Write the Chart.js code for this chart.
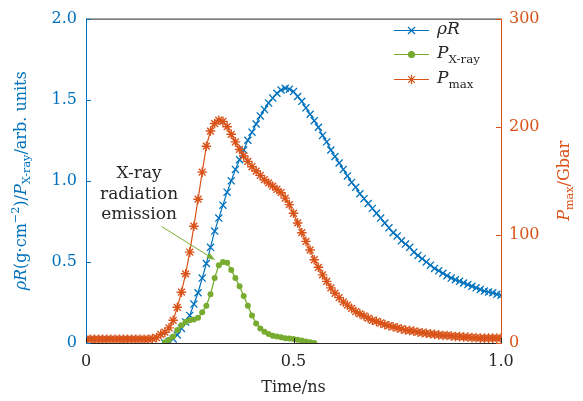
<!DOCTYPE html>
<html>
<head>
<meta charset="utf-8">
<script src="https://cdn.jsdelivr.net/npm/chart.js@4.4.1/dist/chart.umd.min.js"></script>
<style>
  html, body { margin: 0; padding: 0; background: #fff; }
  #wrap { width: 583px; height: 401px; position: relative; }
</style>
</head>
<body>
<div id="wrap"><canvas id="chart" width="583" height="401"></canvas></div>
<script>
// 时间轴 (ns)
const times = [
  0.00, 0.01, 0.02, 0.03, 0.04, 0.05, 0.06, 0.07, 0.08, 0.09,
  0.10, 0.11, 0.12, 0.13, 0.14, 0.15, 0.16, 0.17, 0.18, 0.19,
  0.20, 0.21, 0.22, 0.23, 0.24, 0.25, 0.26, 0.27, 0.28, 0.29,
  0.30, 0.31, 0.32, 0.33, 0.34, 0.35, 0.36, 0.37, 0.38, 0.39,
  0.40, 0.41, 0.42, 0.43, 0.44, 0.45, 0.46, 0.47, 0.48, 0.49,
  0.50, 0.51, 0.52, 0.53, 0.54, 0.55, 0.56, 0.57, 0.58, 0.59,
  0.60, 0.61, 0.62, 0.63, 0.64, 0.65, 0.66, 0.67, 0.68, 0.69,
  0.70, 0.71, 0.72, 0.73, 0.74, 0.75, 0.76, 0.77, 0.78, 0.79,
  0.80, 0.81, 0.82, 0.83, 0.84, 0.85, 0.86, 0.87, 0.88, 0.89,
  0.90, 0.91, 0.92, 0.93, 0.94, 0.95, 0.96, 0.97, 0.98, 0.99,
  1.00
];

// ρR (g·cm^-2)
const rhoR = [
  null, null, null, null, null, null, null, null, null, null,
  null, null, null, null, null, null, null, null, null, 0.0,
  0.01, 0.025, 0.05, 0.09, 0.13, 0.17, 0.24, 0.31, 0.40, 0.49,
  0.59, 0.69, 0.77, 0.85, 0.93, 1.00, 1.07, 1.13, 1.19, 1.25,
  1.30, 1.35, 1.40, 1.44, 1.48, 1.51, 1.54, 1.56, 1.57, 1.565,
  1.55, 1.52, 1.49, 1.45, 1.41, 1.37, 1.33, 1.28, 1.24, 1.19,
  1.15, 1.11, 1.07, 1.03, 0.99, 0.96, 0.92, 0.89, 0.86, 0.83,
  0.80, 0.77, 0.74, 0.71, 0.68, 0.66, 0.63, 0.61, 0.59, 0.56,
  0.54, 0.52, 0.50, 0.48, 0.46, 0.445, 0.43, 0.415, 0.40, 0.39,
  0.38, 0.37, 0.36, 0.35, 0.34, 0.33, 0.32, 0.315, 0.31, 0.30,
  0.295
];

// X射线辐射功率 (arb. units)
const pXray = [
  null, null, null, null, null, null, null, null, null, null,
  null, null, null, null, null, null, null, null, null, 0.005,
  0.02, 0.04, 0.08, 0.11, 0.13, 0.14, 0.145, 0.155, 0.19, 0.23,
  0.30, 0.40, 0.48, 0.50, 0.495, 0.45, 0.40, 0.35, 0.29, 0.23,
  0.17, 0.12, 0.09, 0.07, 0.055, 0.045, 0.04, 0.035, 0.03, 0.028,
  0.025, 0.02, 0.015, 0.01, 0.005, 0.0, null, null, null, null,
  null, null, null, null, null, null, null, null, null, null,
  null, null, null, null, null, null, null, null, null, null,
  null, null, null, null, null, null, null, null, null, null,
  null, null, null, null, null, null, null, null, null, null,
  null
];

// 最大压力 (Gbar)
const pMax = [
  3.5, 3.5, 3.5, 3.5, 3.5, 3.5, 3.5, 3.5, 3.5, 3.5,
  3.5, 3.5, 3.5, 3.5, 3.5, 3.5, 4, 5, 8, 10,
  14, 21, 33, 47, 64, 84, 108, 133, 158, 182,
  196, 203, 206, 205, 200, 193, 186, 179, 173, 168,
  163, 159, 155, 151, 148, 145, 142, 139, 134, 128,
  120, 111, 102, 94, 86, 77, 70, 63, 57, 51,
  46, 42, 38, 35, 32, 29, 27, 25, 23, 21,
  20, 18.5, 17, 16, 15, 14, 13, 12, 11.5, 11,
  10, 9.5, 9, 8.5, 8, 7.5, 7, 7, 6.5, 6,
  6, 5.5, 5.5, 5, 5, 4.5, 4.5, 4.5, 4.5, 4.5,
  4.5
];

const leftTicks = [0, 0.5, 1.0, 1.5, 2.0];
const rightTicks = [0, 100, 200, 300];
const xTicks = [0, 0.5, 1.0];

const BLUE = '#0072BD';
const GREEN = '#77AC30';
const ORANGE = '#D95319';
const DARK = '#262626';
const SERIF = '"DejaVu Serif", serif';

function toPoints(ys) {
  return times.map((t, i) => ({ x: t, y: ys[i] }));
}

// 绘制带上下标/斜体的文字
function richWidth(ctx, segs, size) {
  let w = 0;
  segs.forEach(s => {
    const fs = (s.sub || s.sup) ? size * 0.7 : size;
    ctx.font = (s.it ? 'italic ' : '') + fs + 'px ' + SERIF;
    w += ctx.measureText(s.t).width;
  });
  return w;
}
function drawRich(ctx, segs, x, y, size, align) {
  let w = richWidth(ctx, segs, size);
  let cx = align === 'center' ? x - w / 2 : x;
  ctx.textBaseline = 'middle';
  ctx.textAlign = 'left';
  segs.forEach(s => {
    const fs = (s.sub || s.sup) ? size * 0.7 : size;
    ctx.font = (s.it ? 'italic ' : '') + fs + 'px ' + SERIF;
    let dy = 0;
    if (s.sub) dy = size * 0.32;
    if (s.sup) dy = -size * 0.38;
    ctx.fillText(s.t, cx, y + dy);
    cx += ctx.measureText(s.t).width;
  });
}

const decorPlugin = {
  id: 'decor',
  afterDatasetsDraw(chart) {
    const ctx = chart.ctx;
    const a = chart.chartArea;
    const xs = chart.scales.x, yl = chart.scales.y, yr = chart.scales.y2;
    ctx.save();
    // 边框
    ctx.lineWidth = 1;
    ctx.strokeStyle = DARK;
    ctx.beginPath();
    ctx.moveTo(a.left, a.top + 0.5); ctx.lineTo(a.right, a.top + 0.5);
    ctx.moveTo(a.left, a.bottom + 0.5); ctx.lineTo(a.right, a.bottom + 0.5);
    ctx.stroke();
    ctx.strokeStyle = BLUE;
    ctx.beginPath();
    ctx.moveTo(a.left + 0.5, a.top); ctx.lineTo(a.left + 0.5, a.bottom + 1);
    ctx.stroke();
    ctx.strokeStyle = ORANGE;
    ctx.beginPath();
    ctx.moveTo(a.right + 0.5, a.top); ctx.lineTo(a.right + 0.5, a.bottom + 1);
    ctx.stroke();
    // 内向刻度
    const tl = 5;
    ctx.strokeStyle = BLUE;
    ctx.beginPath();
    leftTicks.forEach(v => {
      const p = Math.round(yl.getPixelForValue(v)) + 0.5;
      ctx.moveTo(a.left, p); ctx.lineTo(a.left + tl, p);
    });
    ctx.stroke();
    ctx.strokeStyle = ORANGE;
    ctx.beginPath();
    rightTicks.forEach(v => {
      const p = Math.round(yr.getPixelForValue(v)) + 0.5;
      ctx.moveTo(a.right, p); ctx.lineTo(a.right - tl, p);
    });
    ctx.stroke();
    ctx.strokeStyle = DARK;
    ctx.beginPath();
    xTicks.forEach(v => {
      const p = Math.round(xs.getPixelForValue(v)) + 0.5;
      ctx.moveTo(p, a.bottom); ctx.lineTo(p, a.bottom - tl);
    });
    ctx.stroke();
    ctx.restore();
  },
  afterDraw(chart) {
    const ctx = chart.ctx;
    const a = chart.chartArea;
    const xs = chart.scales.x, yl = chart.scales.y;
    const midY = (a.top + a.bottom) / 2;
    ctx.save();

    // 左轴标题
    ctx.save();
    ctx.translate(22, midY);
    ctx.rotate(-Math.PI / 2);
    ctx.fillStyle = BLUE;
    drawRich(ctx, [
      { t: 'ρR', it: true }, { t: '(g·cm' }, { t: '−2', sup: true }, { t: ')/' },
      { t: 'P', it: true }, { t: 'X-ray', sub: true }, { t: '/arb. units' }
    ], 0, 0, 16, 'center');
    ctx.restore();

    // 右轴标题
    ctx.save();
    ctx.translate(565, midY);
    ctx.rotate(-Math.PI / 2);
    ctx.fillStyle = ORANGE;
    drawRich(ctx, [{ t: 'P', it: true }, { t: 'max', sub: true }, { t: '/Gbar' }], 0, 0, 16, 'center');
    ctx.restore();

    // x轴标题
    ctx.fillStyle = DARK;
    drawRich(ctx, [{ t: 'Time/ns' }], (a.left + a.right) / 2, 388, 16, 'center');

    // 注释文字与箭头
    ctx.fillStyle = DARK;
    const lines = ['X-ray', 'radiation', 'emission'];
    const lineVals = [1.042, 0.916, 0.789];
    lines.forEach((s, i) => {
      drawRich(ctx, [{ t: s }], xs.getPixelForValue(0.128), yl.getPixelForValue(lineVals[i]), 17, 'center');
    });
    const x0 = xs.getPixelForValue(0.183), y0 = yl.getPixelForValue(0.717);
    const x1 = xs.getPixelForValue(0.311), y1 = yl.getPixelForValue(0.512);
    const ang = Math.atan2(y1 - y0, x1 - x0);
    ctx.strokeStyle = GREEN;
    ctx.fillStyle = GREEN;
    ctx.lineWidth = 1;
    ctx.beginPath();
    ctx.moveTo(x0, y0);
    ctx.lineTo(x1 - 6 * Math.cos(ang), y1 - 6 * Math.sin(ang));
    ctx.stroke();
    ctx.beginPath();
    ctx.moveTo(x1, y1);
    ctx.lineTo(x1 - 9 * Math.cos(ang - 0.35), y1 - 9 * Math.sin(ang - 0.35));
    ctx.lineTo(x1 - 9 * Math.cos(ang + 0.35), y1 - 9 * Math.sin(ang + 0.35));
    ctx.closePath();
    ctx.fill();

    // 图例
    const items = [
      { color: BLUE, style: 'crossRot', r: 5, segs: [{ t: 'ρR', it: true }] },
      { color: GREEN, style: 'circle', r: 3, segs: [{ t: 'P', it: true }, { t: 'X-ray', sub: true }] },
      { color: ORANGE, style: 'star', r: 4.8, segs: [{ t: 'P', it: true }, { t: 'max', sub: true }] }
    ];
    const ly = [30, 54, 79];
    items.forEach((it, i) => {
      ctx.strokeStyle = it.color;
      ctx.fillStyle = it.color;
      ctx.lineWidth = 1.2;
      ctx.beginPath();
      ctx.moveTo(394, ly[i] + 0.5);
      ctx.lineTo(429, ly[i] + 0.5);
      ctx.stroke();
      Chart.helpers.drawPoint(ctx, { pointStyle: it.style, radius: it.r, borderWidth: 1.3 }, 411.5, ly[i] + 0.5);
      ctx.fillStyle = DARK;
      drawRich(ctx, it.segs, 437, ly[i], 17, 'left');
    });
    ctx.restore();
  }
};

const ctx = document.getElementById('chart').getContext('2d');
new Chart(ctx, {
  type: 'line',
  data: {
    datasets: [
      {
        label: 'ρR',
        data: toPoints(rhoR),
        yAxisID: 'y',
        borderColor: BLUE,
        backgroundColor: BLUE,
        borderWidth: 1.2,
        pointStyle: 'crossRot',
        pointRadius: 5,
        pointBorderWidth: 1.3,
        tension: 0,
        order: 3
      },
      {
        label: 'P X-ray',
        data: toPoints(pXray),
        yAxisID: 'y',
        borderColor: GREEN,
        backgroundColor: GREEN,
        borderWidth: 1.3,
        pointStyle: 'circle',
        pointRadius: 3,
        pointBorderWidth: 0,
        tension: 0,
        order: 2
      },
      {
        label: 'P max',
        data: toPoints(pMax),
        yAxisID: 'y2',
        borderColor: ORANGE,
        backgroundColor: ORANGE,
        borderWidth: 1.2,
        pointStyle: 'star',
        pointRadius: 4.8,
        pointBorderWidth: 1.4,
        tension: 0,
        order: 1
      }
    ]
  },
  options: {
    responsive: false,
    animation: false,
    devicePixelRatio: 1,
    layout: { padding: { top: 11, left: 0, right: 0, bottom: 0 } },
    plugins: { legend: { display: false }, tooltip: { enabled: false } },
    scales: {
      x: {
        type: 'linear',
        min: 0, max: 1,
        afterFit(s) { s.height = 58; },
        afterBuildTicks(s) { s.ticks = xTicks.map(v => ({ value: v })); },
        grid: { display: false, drawTicks: false },
        border: { display: false },
        ticks: {
          padding: 9,
          color: DARK,
          font: { family: SERIF, size: 16 },
          maxRotation: 0,
          callback: v => v === 0 ? '0' : v.toFixed(1)
        }
      },
      y: {
        position: 'left',
        min: 0, max: 2,
        afterFit(s) { s.width = 86; },
        afterBuildTicks(s) { s.ticks = leftTicks.map(v => ({ value: v })); },
        grid: { display: false, drawTicks: false },
        border: { display: false },
        ticks: {
          padding: 9,
          color: BLUE,
          font: { family: SERIF, size: 16 },
          callback: v => v === 0 ? '0' : v.toFixed(1)
        }
      },
      y2: {
        position: 'right',
        min: 0, max: 300,
        afterFit(s) { s.width = 82; },
        afterBuildTicks(s) { s.ticks = rightTicks.map(v => ({ value: v })); },
        grid: { display: false, drawTicks: false },
        border: { display: false },
        ticks: {
          padding: 8,
          color: ORANGE,
          font: { family: SERIF, size: 16 },
          callback: v => String(v)
        }
      }
    }
  },
  plugins: [decorPlugin]
});
</script>
</body>
</html>
